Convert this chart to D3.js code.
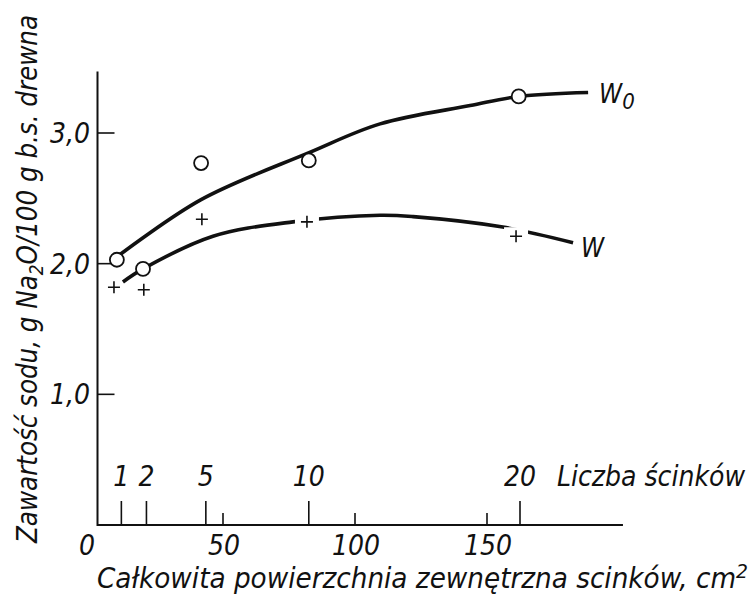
<!DOCTYPE html>
<html>
<head>
<meta charset="utf-8">
<script src="https://cdn.jsdelivr.net/npm/d3@7"></script>
<style>
    body { margin: 0; background: #fff; }
    text { font-family: "Liberation Sans Narrow", "DejaVu Sans Condensed", sans-serif; font-style: italic; fill: #111; }
</style>
</head>
<body>
<div id="chart"></div>
<script>
// measured points (area cm2, Na2O g/100 g)
const w0Points = [[9.8, 2.03], [19.7, 1.96], [41.7, 2.77], [82.5, 2.79], [162, 3.28]];
const wPoints = [[8.7, 1.82], [20, 1.80], [42, 2.34], [81.8, 2.32], [161, 2.21]];

// fitted curves as drawn
const w0Curve = [[11, 2.07], [41.7, 2.49], [82.6, 2.85], [109.5, 3.07], [143.6, 3.21], [162.1, 3.28], [188.3, 3.31]];
const wCurve = [[12.1, 1.86], [19.7, 1.96], [46.2, 2.21], [76.5, 2.32], [109.5, 2.37], [122, 2.36], [156, 2.28], [182.6, 2.16]];

// secondary scale: number of cuttings at given area
const cutCounts = ["1", "2", "5", "10", "20"];
const cutAreas = [11.5, 21, 43.5, 82.5, 162.5];

const xTicks = [50, 100, 150];
const yTicks = [1.0, 2.0, 3.0];

const width = 753, height = 598;

const svg = d3.select("#chart").append("svg")
    .attr("width", width)
    .attr("height", height);

const x = d3.scaleLinear().domain([0, 150]).range([91, 487]);
const y = d3.scaleLinear().domain([0, 3]).range([525, 133]);

const axisLeftX = 97.5;

// axes lines
svg.append("line")
    .attr("x1", axisLeftX).attr("x2", axisLeftX)
    .attr("y1", y(3.47)).attr("y2", y(0) + 1)
    .attr("stroke", "#111").attr("stroke-width", 2);

svg.append("line")
    .attr("x1", axisLeftX).attr("x2", x(201.5))
    .attr("y1", y(0)).attr("y2", y(0))
    .attr("stroke", "#111").attr("stroke-width", 2);

// y ticks
svg.append("g").selectAll("line")
    .data(yTicks)
    .join("line")
    .attr("x1", axisLeftX).attr("x2", axisLeftX + 17)
    .attr("y1", d => y(d)).attr("y2", d => y(d))
    .attr("stroke", "#111").attr("stroke-width", 1.6);

svg.append("g").selectAll("text")
    .data(yTicks)
    .join("text")
    .attr("x", 90)
    .attr("y", d => y(d) + 10)
    .attr("text-anchor", "end")
    .attr("font-size", 28)
    .text(d => d3.format(".1f")(d).replace(".", ","));

// x ticks (area)
svg.append("g").selectAll("line")
    .data(xTicks)
    .join("line")
    .attr("x1", d => x(d)).attr("x2", d => x(d))
    .attr("y1", y(0)).attr("y2", y(0) - 12)
    .attr("stroke", "#111").attr("stroke-width", 1.6);

svg.append("g").selectAll("text")
    .data([0].concat(xTicks))
    .join("text")
    .attr("x", d => d === 0 ? x(d) - 4 : x(d) + 1)
    .attr("y", 555)
    .attr("text-anchor", "middle")
    .attr("font-size", 28)
    .text(d => d);

// count ticks
svg.append("g").selectAll("line")
    .data(cutAreas)
    .join("line")
    .attr("x1", d => x(d)).attr("x2", d => x(d))
    .attr("y1", y(0)).attr("y2", y(0) - 24)
    .attr("stroke", "#111").attr("stroke-width", 1.6);

svg.append("g").selectAll("text")
    .data(cutAreas)
    .join("text")
    .attr("x", d => x(d))
    .attr("y", 486)
    .attr("text-anchor", "middle")
    .attr("font-size", 28)
    .text((d, i) => cutCounts[i]);

svg.append("text")
    .attr("x", 557).attr("y", 486)
    .attr("font-size", 28)
    .attr("textLength", 188)
    .attr("lengthAdjust", "spacingAndGlyphs")
    .text("Liczba ścinków");

// curves
const line = d3.line()
    .x(d => x(d[0]))
    .y(d => y(d[1]))
    .curve(d3.curveCatmullRom.alpha(0.5));

svg.append("path")
    .datum(w0Curve)
    .attr("fill", "none")
    .attr("stroke", "#111")
    .attr("stroke-width", 3.6)
    .attr("d", line);

svg.append("path")
    .datum(wCurve)
    .attr("fill", "none")
    .attr("stroke", "#111")
    .attr("stroke-width", 3.6)
    .attr("d", line);

// crosses (W) with a white gap in the line behind the last two
const cross = svg.append("g").selectAll("g")
    .data(wPoints)
    .join("g")
    .attr("transform", d => `translate(${x(d[0])},${y(d[1])})`);

cross.filter((d, i) => i >= 3)
    .append("rect")
    .attr("x", -12).attr("y", -9).attr("width", 24).attr("height", 18)
    .attr("fill", "#fff");

cross.append("path")
    .attr("d", "M-6,0H6M0,-6V6")
    .attr("stroke", "#111")
    .attr("stroke-width", 1.6);

// circles (W0)
svg.append("g").selectAll("circle")
    .data(w0Points)
    .join("circle")
    .attr("cx", d => x(d[0]))
    .attr("cy", d => y(d[1]))
    .attr("r", 7)
    .attr("fill", "#fff")
    .attr("stroke", "#111")
    .attr("stroke-width", 1.8);

// curve labels
const w0Label = svg.append("text")
    .attr("x", 599).attr("y", 103)
    .attr("font-size", 26);
w0Label.append("tspan").text("W");
w0Label.append("tspan").attr("dy", 6).attr("font-size", 22).text("0");

svg.append("text")
    .attr("x", 581).attr("y", 257)
    .attr("font-size", 26)
    .text("W");

// axis titles
const yTitle = svg.append("text")
    .attr("transform", "translate(37,543) rotate(-90)")
    .attr("font-size", 29)
    .attr("textLength", 528)
    .attr("lengthAdjust", "spacingAndGlyphs");
yTitle.append("tspan").text("Zawartość sodu, g Na");
yTitle.append("tspan").attr("dy", 6).attr("font-size", 20).text("2");
yTitle.append("tspan").attr("dy", -6).text("O/100 g b.s. drewna");

const xTitle = svg.append("text")
    .attr("x", 97).attr("y", 588)
    .attr("font-size", 28)
    .attr("textLength", 651)
    .attr("lengthAdjust", "spacingAndGlyphs");
xTitle.append("tspan").text("Całkowita powierzchnia zewnętrzna scinków, cm");
xTitle.append("tspan").attr("dy", -10).attr("font-size", 20).text("2");
</script>
</body>
</html>
